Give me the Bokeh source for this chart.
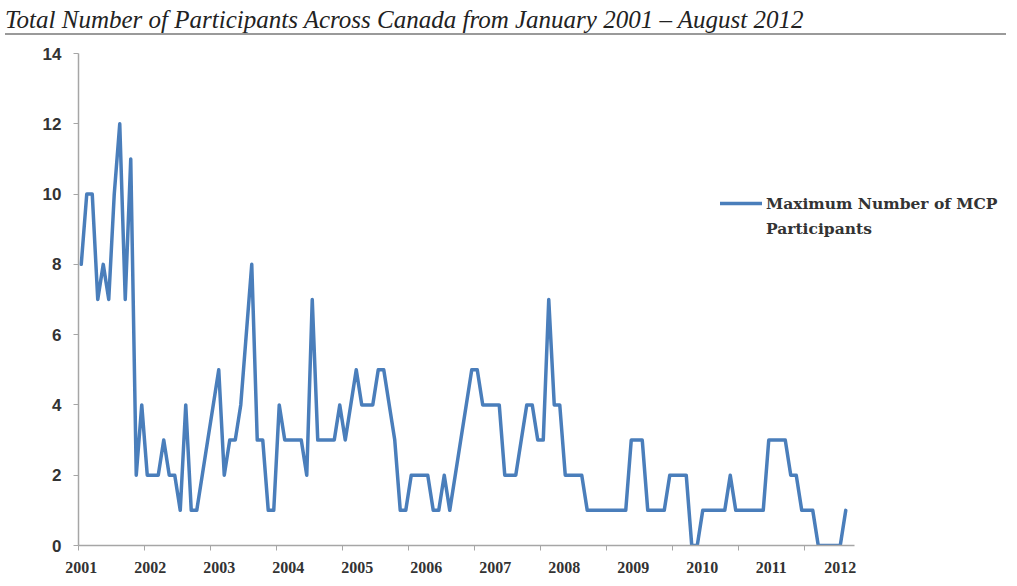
from bokeh.plotting import figure
from bokeh.models import Range1d, FixedTicker, Legend, LegendItem, Div
from bokeh.layouts import column
from bokeh.embed import file_html
from bokeh.resources import INLINE

TITLE = "Total Number of Participants Across Canada from January 2001 \u2013 August 2012"
SERIES_NAME_LINES = ["Maximum Number of MCP", "Participants"]

years = ["2001", "2002", "2003", "2004", "2005", "2006",
         "2007", "2008", "2009", "2010", "2011", "2012"]

# monthly maximum number of participants (Jan 2001 - Aug 2012)
v2001 = [8, 10, 10, 7, 8, 7, 10, 12, 7, 11, 2, 4]
v2002 = [2, 2, 2, 3, 2, 2, 1, 4, 1, 1, 2, 3]
v2003 = [4, 5, 2, 3, 3, 4, 6, 8, 3, 3, 1, 1]
v2004 = [4, 3, 3, 3, 3, 2, 7, 3, 3, 3, 3, 4]
v2005 = [3, 4, 5, 4, 4, 4, 5, 5, 4, 3, 1, 1]
v2006 = [2, 2, 2, 2, 1, 1, 2, 1, 2, 3, 4, 5]
v2007 = [5, 4, 4, 4, 4, 2, 2, 2, 3, 4, 4, 3]
v2008 = [3, 7, 4, 4, 2, 2, 2, 2, 1, 1, 1, 1]
v2009 = [1, 1, 1, 1, 3, 3, 3, 1, 1, 1, 1, 2]
v2010 = [2, 2, 2, 0, 0, 1, 1, 1, 1, 1, 2, 1]
v2011 = [1, 1, 1, 1, 1, 3, 3, 3, 3, 2, 2, 1]
v2012 = [1, 1, 0, 0, 0, 0, 0, 1]

y_ticks = [0, 2, 4, 6, 8, 10, 12, 14]

values = (v2001 + v2002 + v2003 + v2004 + v2005 + v2006 +
          v2007 + v2008 + v2009 + v2010 + v2011 + v2012)
months = list(range(len(values)))

LINE_COLOR = "#4A7EBB"
AXIS_COLOR = "#a6a6a6"
TEXT_COLOR = "#333333"

title_div = Div(
    text=TITLE, width=1001, height=30,
    styles={
        "font-family": "'Liberation Serif'",
        "font-style": "italic",
        "font-size": "25px",
        "line-height": "26px",
        "padding-top": "2px",
        "color": "#222222",
        "border-bottom": "2px solid #9a9a9a",
        "box-sizing": "border-box",
        "white-space": "nowrap",
    },
)

FIG_W = 1001
BORDER_L = 78
BORDER_R = 0
PX_PER_MONTH = 5.5
frame_w = FIG_W - BORDER_L - BORDER_R
x_start = -0.5
x_end = x_start + frame_w / PX_PER_MONTH

p = figure(
    width=FIG_W, height=540,
    output_backend="svg", toolbar_location=None,
    x_range=Range1d(x_start, x_end),
    y_range=Range1d(y_ticks[0], y_ticks[-1]),
    min_border_left=BORDER_L, min_border_right=BORDER_R,
    min_border_top=13, min_border_bottom=35,
)
p.outline_line_color = None
p.xgrid.visible = False
p.ygrid.visible = False
p.background_fill_color = "white"
p.border_fill_color = "white"

r = p.line(months, values, line_color=LINE_COLOR, line_width=3.5,
           line_join="round", line_cap="round")
# invisible companion renderer for the legend's second text line
r_blank = p.line([], [], line_alpha=0)

# x axis: year labels, yearly tick marks
n_lab = len(years)
label_pos = [round(i * (len(values) - 2) / (n_lab - 1), 4) for i in range(n_lab)]
year_ticks = [12 * i - 0.5 for i in range(n_lab)]
p.xaxis.bounds = (x_start, len(values) + 0.5)
p.xaxis.ticker = FixedTicker(ticks=label_pos, minor_ticks=year_ticks)
p.xaxis.major_label_overrides = {pos: lab for pos, lab in zip(label_pos, years)}
p.xaxis.major_tick_line_color = None
p.xaxis.major_tick_out = 5
p.xaxis.major_tick_in = 0
p.xaxis.minor_tick_out = 5
p.xaxis.minor_tick_in = 0
p.xaxis.minor_tick_line_color = AXIS_COLOR
p.xaxis.axis_line_color = AXIS_COLOR
p.xaxis.axis_line_width = 1.5
p.xaxis.major_label_standoff = 11
p.xaxis.major_label_text_font = "Liberation Serif"
p.xaxis.major_label_text_font_style = "bold"
p.xaxis.major_label_text_font_size = "16px"
p.xaxis.major_label_text_color = TEXT_COLOR

# y axis
p.yaxis.ticker = FixedTicker(ticks=y_ticks, minor_ticks=[])
p.yaxis.major_tick_out = 5
p.yaxis.major_tick_in = 0
p.yaxis.major_tick_line_color = AXIS_COLOR
p.yaxis.minor_tick_line_color = None
p.yaxis.axis_line_color = AXIS_COLOR
p.yaxis.axis_line_width = 1.5
p.yaxis.major_label_standoff = 12
p.yaxis.major_label_text_font = "Liberation Sans"
p.yaxis.major_label_text_font_style = "bold"
p.yaxis.major_label_text_font_size = "17px"
p.yaxis.major_label_text_color = TEXT_COLOR

legend = Legend(
    items=[LegendItem(label=SERIES_NAME_LINES[0], renderers=[r]),
           LegendItem(label=SERIES_NAME_LINES[1], renderers=[r_blank])],
    location=(642, 307),
    glyph_width=42, glyph_height=20, label_height=20,
    label_standoff=4, padding=0, margin=0, spacing=5,
    border_line_color=None, background_fill_alpha=0,
    label_text_font="DejaVu Serif",
    label_text_font_style="bold",
    label_text_font_size="15.5px",
    label_text_color=TEXT_COLOR,
)
p.add_layout(legend, "center")

layout = column(title_div, p)
open("out.html", "w").write(file_html(layout, INLINE))
